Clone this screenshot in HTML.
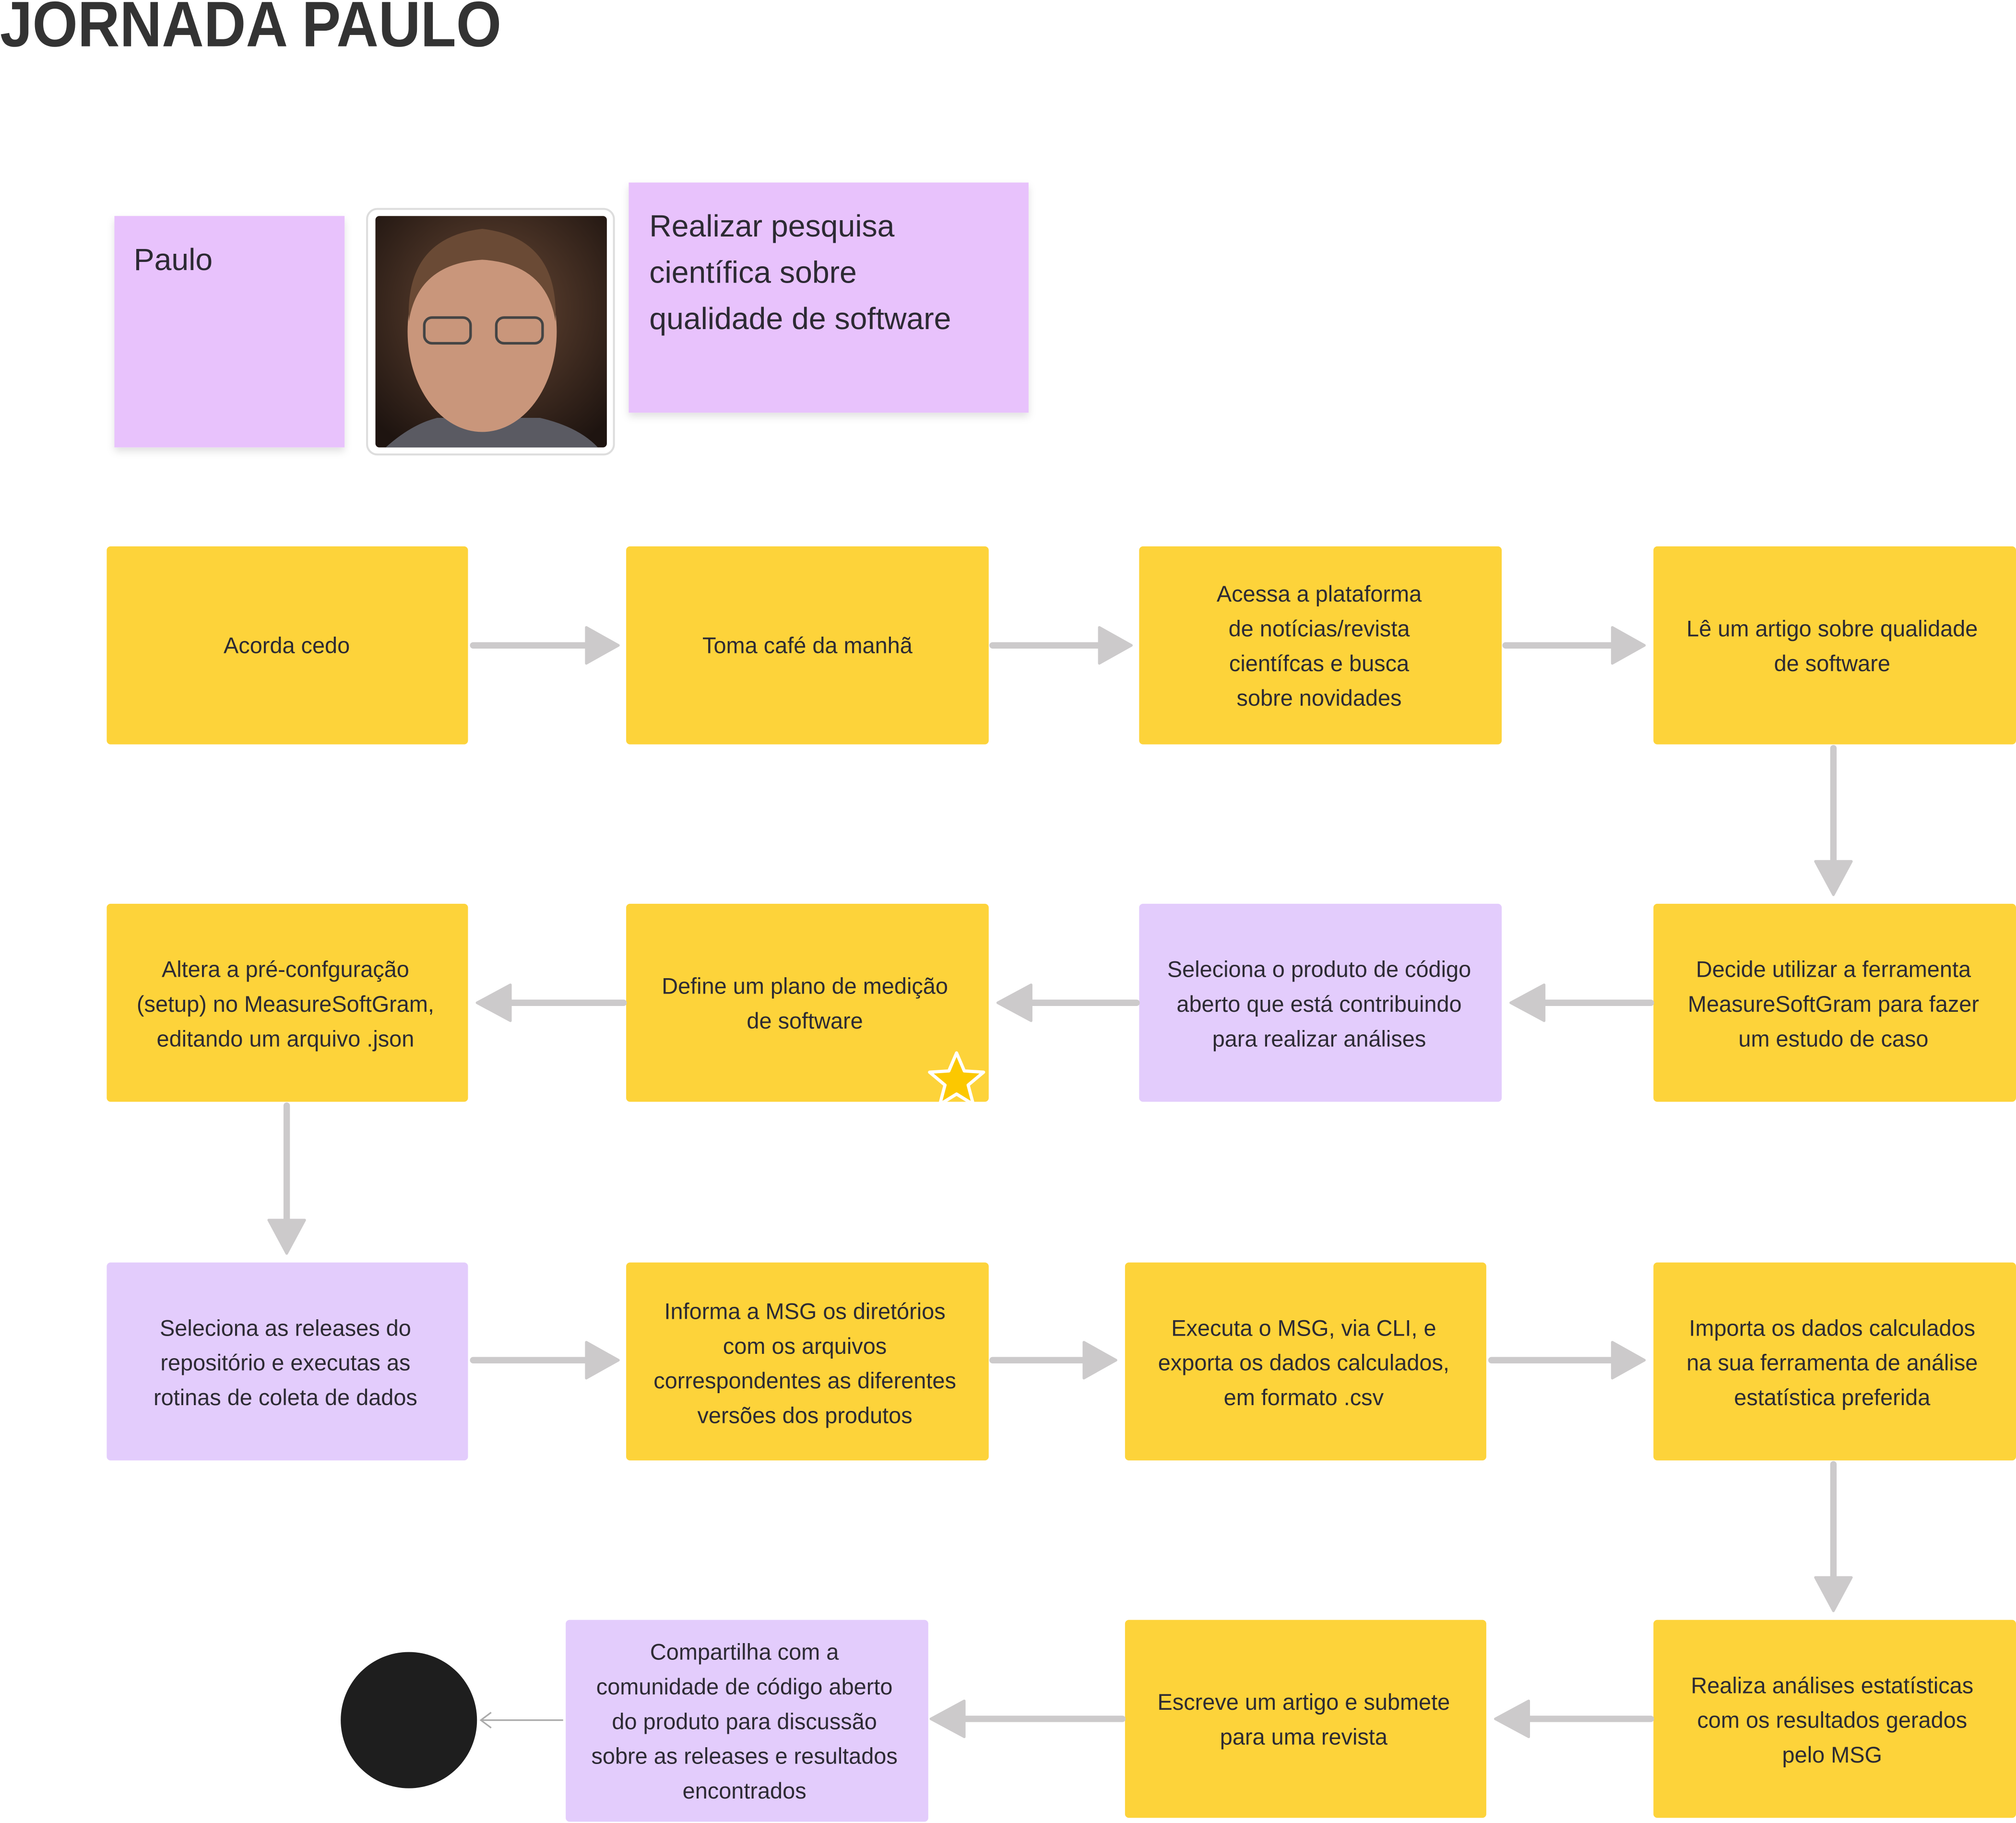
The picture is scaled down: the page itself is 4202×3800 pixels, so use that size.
<!DOCTYPE html>
<html><head><meta charset="utf-8"><style>
html,body{margin:0;padding:0;background:#fff;width:4202px;height:3800px;overflow:hidden}
svg{display:block}
text{font-family:"Liberation Sans",sans-serif;fill:#2c2a33}
.n{font-size:17.5px;text-anchor:middle}
</style></head><body>
<svg width="4202" height="3800" viewBox="0 0 1568 1418" preserveAspectRatio="none" xmlns="http://www.w3.org/2000/svg">
<defs>
<filter id="sh" x="-10%" y="-10%" width="120%" height="130%"><feDropShadow dx="0" dy="3" stdDeviation="3" flood-color="#000" flood-opacity="0.12"/></filter>
<radialGradient id="bg" cx="50%" cy="40%" r="70%"><stop offset="0" stop-color="#6b4a36"/><stop offset="1" stop-color="#1e1410"/></radialGradient>
</defs>
<text x="0" y="36" textLength="390" lengthAdjust="spacingAndGlyphs" style="font-size:50px;font-weight:bold;fill:#333">JORNADA PAULO</text>

<rect x="89" y="168" width="179" height="180" fill="#e8c2fc" filter="url(#sh)"/>
<text x="104" y="210" style="font-size:24px">Paulo</text>

<rect x="285.5" y="162.5" width="192" height="191" rx="8" fill="#fff" stroke="#ddd" stroke-width="1.5"/>
<rect x="292" y="168" width="180" height="180" rx="3" fill="url(#bg)"/>
<path d="M300 348 Q320 330 340 325 L420 325 Q450 332 465 348 Z" fill="#5a5a62"/>
<ellipse cx="375" cy="258" rx="58" ry="78" fill="#c9967b"/>
<path d="M318 250 Q315 185 375 178 Q435 185 432 250 Q425 205 375 202 Q325 205 318 250Z" fill="#6a4a35"/>
<rect x="330" y="247" width="36" height="20" rx="6" fill="none" stroke="#444" stroke-width="2"/>
<rect x="386" y="247" width="36" height="20" rx="6" fill="none" stroke="#444" stroke-width="2"/>

<rect x="489" y="142" width="311" height="179" fill="#e8c2fc" filter="url(#sh)"/>
<text x="505" y="184" style="font-size:24px">Realizar pesquisa</text>
<text x="505" y="220" style="font-size:24px">científica sobre</text>
<text x="505" y="256" style="font-size:24px">qualidade de software</text>

<g fill="#fdd33a">
<rect x="83" y="425" width="281" height="154" rx="3"/>
<rect x="487" y="425" width="282" height="154" rx="3"/>
<rect x="886" y="425" width="282" height="154" rx="3"/>
<rect x="1286" y="425" width="282" height="154" rx="3"/>
<rect x="1286" y="703" width="282" height="154" rx="3"/>
<rect x="487" y="703" width="282" height="154" rx="3"/>
<rect x="83" y="703" width="281" height="154" rx="3"/>
<rect x="487" y="982" width="282" height="154" rx="3"/>
<rect x="875" y="982" width="281" height="154" rx="3"/>
<rect x="1286" y="982" width="282" height="154" rx="3"/>
<rect x="1286" y="1260" width="282" height="154" rx="3"/>
<rect x="875" y="1260" width="281" height="154" rx="3"/>
</g>
<g fill="#e3ccfc">
<rect x="886" y="703" width="282" height="154" rx="3"/>
<rect x="83" y="982" width="281" height="154" rx="3"/>
<rect x="440" y="1260" width="282" height="157" rx="3"/>
</g>

<g stroke="#cccacb" stroke-width="5" stroke-linecap="round" fill="none">
<line x1="368" y1="502" x2="460" y2="502"/>
<line x1="772" y1="502" x2="858" y2="502"/>
<line x1="1171" y1="502" x2="1258" y2="502"/>
<line x1="1426" y1="582" x2="1426" y2="673"/>
<line x1="485" y1="780" x2="395" y2="780"/>
<line x1="884" y1="780" x2="800" y2="780"/>
<line x1="1284" y1="780" x2="1198" y2="780"/>
<line x1="223" y1="860" x2="223" y2="952"/>
<line x1="368" y1="1058" x2="460" y2="1058"/>
<line x1="772" y1="1058" x2="846" y2="1058"/>
<line x1="1160" y1="1058" x2="1258" y2="1058"/>
<line x1="1426" y1="1139" x2="1426" y2="1230"/>
<line x1="1284" y1="1337" x2="1186" y2="1337"/>
<line x1="873" y1="1337" x2="748" y2="1337"/>
</g>
<g fill="#cccacb" stroke="#cccacb" stroke-width="2" stroke-linejoin="round">
<polygon points="456,488 481,502 456,516"/>
<polygon points="855,488 880,502 855,516"/>
<polygon points="1254,488 1279,502 1254,516"/>
<polygon points="1412,670 1440,670 1426,696"/>
<polygon points="397,766 371,780 397,794"/>
<polygon points="802,766 776,780 802,794"/>
<polygon points="1201,766 1175,780 1201,794"/>
<polygon points="209,949 237,949 223,975"/>
<polygon points="456,1044 481,1058 456,1072"/>
<polygon points="843,1044 868,1058 843,1072"/>
<polygon points="1254,1044 1279,1058 1254,1072"/>
<polygon points="1412,1227 1440,1227 1426,1253"/>
<polygon points="1189,1323 1163,1337 1189,1351"/>
<polygon points="750,1323 724,1337 750,1351"/>
</g>
<line x1="438" y1="1338" x2="375" y2="1338" stroke="#aaa" stroke-width="1.2"/>
<polyline points="382,1332 374,1338 382,1344" fill="none" stroke="#aaa" stroke-width="1.2"/>
<circle cx="318" cy="1338" r="53" fill="#1e1e1e"/>

<polygon points="744,819 750,833 765,834 753,844 757,859 744,851 731,859 735,844 723,834 738,833" fill="#fcc800" stroke="#fff" stroke-width="2.5" stroke-linejoin="round"/>

<g class="n">
<text class="n" x="223" y="508">Acorda cedo</text>
<text class="n" x="628" y="508">Toma café da manhã</text>
<text class="n" x="1026" y="468">Acessa a plataforma</text>
<text class="n" x="1026" y="495">de notícias/revista</text>
<text class="n" x="1026" y="522">científcas e busca</text>
<text class="n" x="1026" y="549">sobre novidades</text>
<text class="n" x="1425" y="495">Lê um artigo sobre qualidade</text>
<text class="n" x="1425" y="522">de software</text>
<text class="n" x="1426" y="760">Decide utilizar a ferramenta</text>
<text class="n" x="1426" y="787">MeasureSoftGram para fazer</text>
<text class="n" x="1426" y="814">um estudo de caso</text>
<text class="n" x="1026" y="760">Seleciona o produto de código</text>
<text class="n" x="1026" y="787">aberto que está contribuindo</text>
<text class="n" x="1026" y="814">para realizar análises</text>
<text class="n" x="626" y="773">Define um plano de medição</text>
<text class="n" x="626" y="800">de software</text>
<text class="n" x="222" y="760">Altera a pré-confguração</text>
<text class="n" x="222" y="787">(setup) no MeasureSoftGram,</text>
<text class="n" x="222" y="814">editando um arquivo .json</text>
<text class="n" x="222" y="1039">Seleciona as releases do</text>
<text class="n" x="222" y="1066">repositório e executas as</text>
<text class="n" x="222" y="1093">rotinas de coleta de dados</text>
<text class="n" x="626" y="1026">Informa a MSG os diretórios</text>
<text class="n" x="626" y="1053">com os arquivos</text>
<text class="n" x="626" y="1080">correspondentes as diferentes</text>
<text class="n" x="626" y="1107">versões dos produtos</text>
<text class="n" x="1014" y="1039">Executa o MSG, via CLI, e</text>
<text class="n" x="1014" y="1066">exporta os dados calculados,</text>
<text class="n" x="1014" y="1093">em formato .csv</text>
<text class="n" x="1425" y="1039">Importa os dados calculados</text>
<text class="n" x="1425" y="1066">na sua ferramenta de análise</text>
<text class="n" x="1425" y="1093">estatística preferida</text>
<text class="n" x="1425" y="1317">Realiza análises estatísticas</text>
<text class="n" x="1425" y="1344">com os resultados gerados</text>
<text class="n" x="1425" y="1371">pelo MSG</text>
<text class="n" x="1014" y="1330">Escreve um artigo e submete</text>
<text class="n" x="1014" y="1357">para uma revista</text>
<text class="n" x="579" y="1291">Compartilha com a</text>
<text class="n" x="579" y="1318">comunidade de código aberto</text>
<text class="n" x="579" y="1345">do produto para discussão</text>
<text class="n" x="579" y="1372">sobre as releases e resultados</text>
<text class="n" x="579" y="1399">encontrados</text>
</g>
</svg>
</body></html>
